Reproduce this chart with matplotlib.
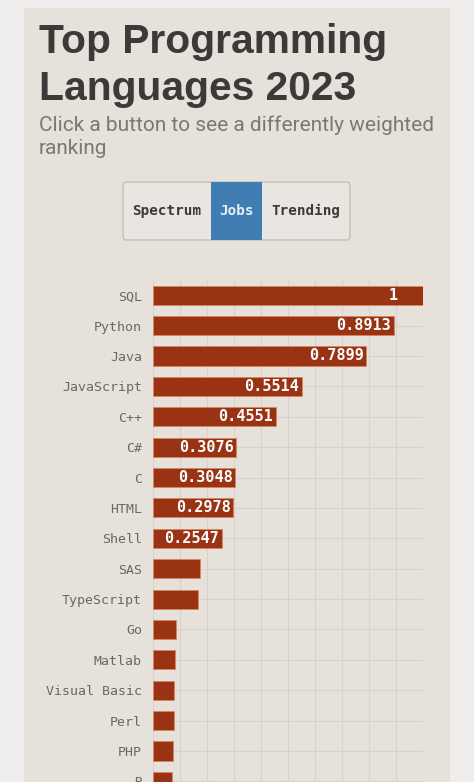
import matplotlib
matplotlib.use("Agg")
import matplotlib.pyplot as plt
from matplotlib.patches import Rectangle, FancyBboxPatch
import numpy as np

# ranking data (Jobs weighting)
languages = ["SQL", "Python", "Java", "JavaScript", "C++", "C#", "C", "HTML",
             "Shell", "SAS", "TypeScript", "Go", "Matlab", "Visual Basic",
             "Perl", "PHP", "R"]
scores = [1.0, 0.8913, 0.7899, 0.5514, 0.4551, 0.3076, 0.3048, 0.2978,
          0.2547, 0.175, 0.168, 0.084, 0.081, 0.078, 0.077, 0.074, 0.07]
buttons = ["Spectrum", "Jobs", "Trending"]
active = "Jobs"

W, H = 474, 782
outer_bg = "#eeedeb"
panel_bg = "#e6e1db"
bar_col = "#993314"
grid_col = "#d9d2ca"
text_dark = "#3b3a39"
text_grey = "#7a7775"

fig = plt.figure(figsize=(W / 100, H / 100), dpi=100)
fig.patch.set_facecolor(outer_bg)

def fx(x):
    return x / W

def fy(y):
    return 1 - y / H

# beige panel
fig.patches.append(Rectangle((fx(24), 0), fx(450) - fx(24), fy(8),
                             transform=fig.transFigure, facecolor=panel_bg,
                             edgecolor="none", zorder=-2))

# title + subtitle
fig.text(fx(39), fy(53), "Top Programming", fontsize=29.3, fontweight="bold",
         color=text_dark, family="Liberation Sans", va="baseline")
fig.text(fx(39), fy(100), "Languages 2023", fontsize=29.3, fontweight="bold",
         color=text_dark, family="Liberation Sans", va="baseline")
fig.text(fx(39), fy(131), "Click a button to see a differently weighted",
         fontsize=15, color=text_grey, family="Roboto", va="baseline")
fig.text(fx(39), fy(154), "ranking", fontsize=15, color=text_grey,
         family="Roboto", va="baseline")

# button group
bx0, bx1, by0, by1 = 123, 350, 182, 240
fig.patches.append(FancyBboxPatch((fx(bx0), fy(by1)), fx(bx1) - fx(bx0),
                                  fy(by0) - fy(by1),
                                  boxstyle="round,pad=0,rounding_size=0.006",
                                  transform=fig.transFigure, facecolor="#e9e5e0",
                                  edgecolor="#c4bfb9", lw=1.0, zorder=-1))
btn_edges = [123, 211, 262, 350]
for i, name in enumerate(buttons):
    x0, x1 = btn_edges[i], btn_edges[i + 1]
    on = name == active
    if on:
        fig.patches.append(Rectangle((fx(x0), fy(by1)), fx(x1) - fx(x0),
                                     fy(by0) - fy(by1), transform=fig.transFigure,
                                     facecolor="#3f7db3", edgecolor="none", zorder=-0.5))
    fig.text(fx((x0 + x1) / 2), fy(211), name, ha="center", va="center",
             fontsize=10.3, fontweight="bold", family="DejaVu Sans Mono",
             color="#e8eef5" if on else "#3a3a3a", zorder=3)

# bar chart
ax = fig.add_axes([fx(153), 0, fx(423) - fx(153), fy(280)])
ax.set_zorder(2)
ax.set_facecolor("none")
pos = np.arange(len(languages))
ax.barh(pos, scores, height=0.63, color=bar_col, edgecolor="#d9865f",
        linewidth=0.6, zorder=3)

for p, v in zip(pos, scores):
    if v >= 0.25:
        ax.annotate(f"{v:g}", (v, p), xytext=(-30, 0), textcoords="offset pixels",
                    ha="center", va="center", color="white", fontsize=11,
                    fontweight="bold", family="DejaVu Sans Mono", zorder=4)

ax.set_xlim(0, 1)
ax.set_ylim((H - 295) / 30.4, -0.5)
ax.set_xticks(np.arange(0, 1.01, 0.1))
ax.set_yticks(pos)
ax.set_yticklabels(languages, family="DejaVu Sans Mono", fontsize=9.5,
                   color="#6b6864")
ax.tick_params(axis="y", length=0, pad=8)
ax.tick_params(axis="x", length=0, labelbottom=False)
ax.grid(True, color=grid_col, lw=0.8, zorder=0)
ax.set_axisbelow(True)
for s in ax.spines.values():
    s.set_visible(False)

fig.savefig("out.png", dpi=100, facecolor=outer_bg)
